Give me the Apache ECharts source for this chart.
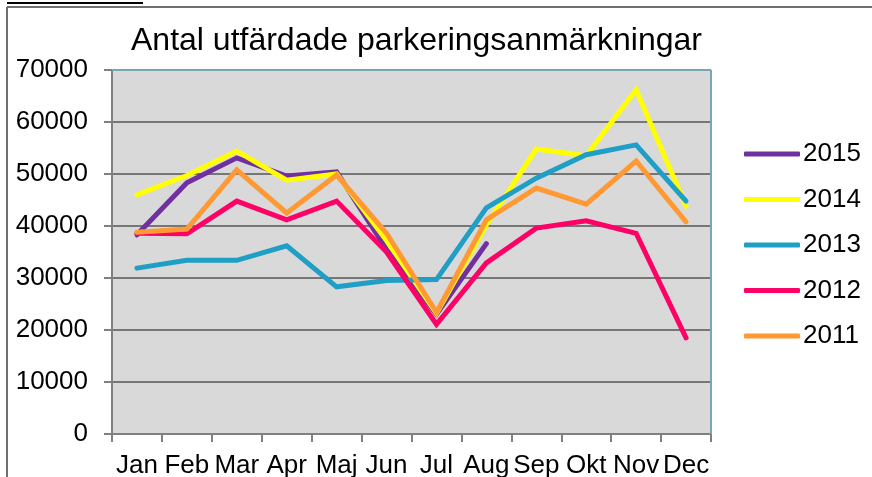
<!DOCTYPE html>
<html>
<head>
<meta charset="utf-8">
<script src="https://cdn.jsdelivr.net/npm/echarts@6/dist/echarts.min.js"></script>
<style>
  html, body { margin: 0; padding: 0; background: #fff; }
  #chart { width: 872px; height: 477px; }
</style>
</head>
<body>
<div id="chart"></div>
<script>
// data
var months = ['Jan', 'Feb', 'Mar', 'Apr', 'Maj', 'Jun', 'Jul', 'Aug', 'Sep', 'Okt', 'Nov', 'Dec']
var y2015 = [38300, 48300, 53100, 49600, 50400, 35500, 23000, 36600, null, null, null, null]
var y2014 = [46000, 49700, 54400, 48800, 50000, 37200, 23200, 40200, 54800, 53500, 66200, 43800]
var y2013 = [31900, 33400, 33400, 36200, 28300, 29500, 29700, 43500, 49200, 53700, 55600, 44800]
var y2012 = [38600, 38500, 44800, 41200, 44800, 35000, 21100, 32900, 39600, 41000, 38600, 18500]
var y2011 = [38800, 39400, 50800, 42500, 49800, 38600, 23400, 41200, 47300, 44200, 52500, 40800]
var yTicks = [0, 10000, 20000, 30000, 40000, 50000, 60000, 70000]

var font = 'Liberation Sans, Arial, sans-serif'
var chart = echarts.init(document.getElementById('chart'))

function line(name, data, color) {
  return {
    name: name,
    type: 'line',
    data: data,
    showSymbol: false,
    connectNulls: false,
    lineStyle: { color: color, width: 5, cap: 'round', join: 'miter' },
    itemStyle: { color: color }
  }
}

chart.setOption({
  animation: false,
  textStyle: { fontFamily: font },
  title: {
    text: 'Antal utfärdade parkeringsanmärkningar',
    left: 126,
    top: 20,
    textStyle: { fontSize: 32, fontWeight: 'normal', color: '#000', fontFamily: font }
  },
  legend: {
    orient: 'vertical',
    left: 739,
    top: 136,
    icon: 'roundRect',
    itemWidth: 56,
    itemHeight: 5,
    itemGap: 19.5,
    textStyle: { fontSize: 26, color: '#000', fontFamily: font, padding: [0, 0, 0, -2] },
    data: ['2015', '2014', '2013', '2012', '2011']
  },
  grid: {
    left: 112,
    right: 161,
    top: 70,
    bottom: 43,
    outerBoundsMode: 'none',
    show: true,
    backgroundColor: '#d9d9d9',
    borderWidth: 0
  },
  xAxis: {
    type: 'category',
    data: months,
    boundaryGap: true,
    axisLine: { lineStyle: { color: '#808080', width: 2 } },
    axisTick: { show: true, length: 8, lineStyle: { color: '#808080', width: 2 } },
    axisLabel: { fontSize: 26, color: '#000', margin: 19, fontFamily: font, interval: 0 },
    splitLine: { show: false }
  },
  yAxis: {
    type: 'value',
    min: yTicks[0],
    max: yTicks[yTicks.length - 1],
    interval: 10000,
    axisLine: { show: true, lineStyle: { color: '#808080', width: 2 } },
    axisTick: { show: true, length: 8, lineStyle: { color: '#808080', width: 2 } },
    axisLabel: { fontSize: 26, color: '#000', margin: 24, fontFamily: font, formatter: function (v) { return String(v) } },
    splitLine: { show: true, lineStyle: { color: '#767676', width: 2 } }
  },
  graphic: [
    // plot area top / right border
    { type: 'line', z: 100, shape: { x1: 112, y1: 70, x2: 711, y2: 70 }, style: { stroke: '#7aa6b4', lineWidth: 2 } },
    { type: 'line', z: 100, shape: { x1: 711, y1: 70, x2: 711, y2: 434 }, style: { stroke: '#7aa6b4', lineWidth: 2 } },
    // outer frame
    { type: 'line', z: 100, shape: { x1: 7, y1: 7, x2: 872, y2: 7 }, style: { stroke: '#6f6f6f', lineWidth: 2 } },
    { type: 'line', z: 100, shape: { x1: 7, y1: 7, x2: 7, y2: 477 }, style: { stroke: '#6f6f6f', lineWidth: 2 } },
    // cut-off underlined heading above the frame
    { type: 'line', z: 100, shape: { x1: 7, y1: 3, x2: 143, y2: 3 }, style: { stroke: '#000', lineWidth: 2 } }
  ],
  series: [
    line('2015', y2015, '#7030a0'),
    line('2014', y2014, '#ffff00'),
    line('2013', y2013, '#209fc6'),
    line('2012', y2012, '#ff0066'),
    line('2011', y2011, '#ff9933')
  ]
})
</script>
</body>
</html>
